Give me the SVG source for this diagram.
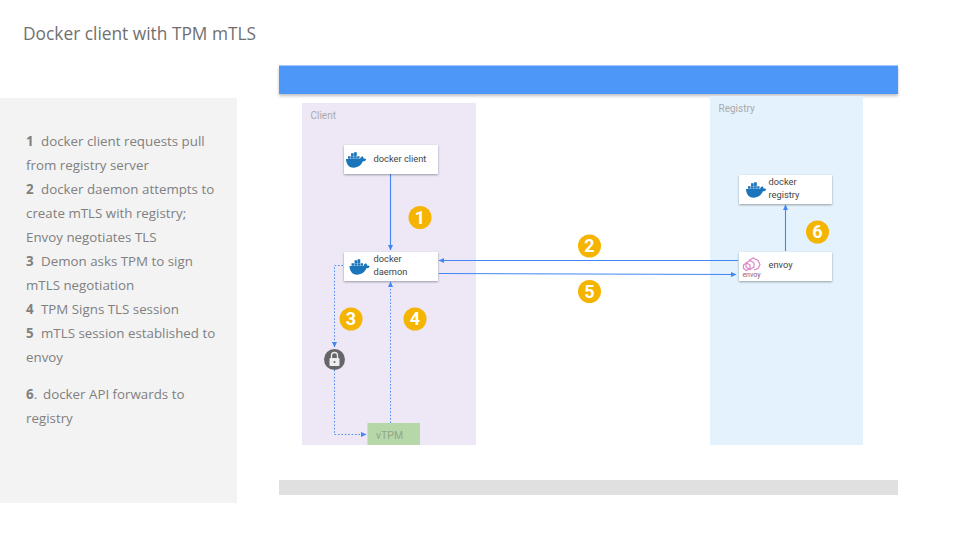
<svg xmlns="http://www.w3.org/2000/svg" width="960" height="540" viewBox="0 0 960 540">
<style>
text{font-family:"Open Sans","Noto Sans",sans-serif;fill:#777}
.r{font-family:Roboto,"Liberation Sans",sans-serif}
.nt{font-family:Roboto,"Liberation Sans",sans-serif;font-size:9.3px;fill:#444}
.side{font-size:13.33px;fill:#808080}
.side tspan.b{font-weight:700}
.card{fill:#fff;filter:url(#sh)}
.solid{fill:none;stroke:#4285f4;stroke-width:1.1}
.dash{fill:none;stroke:#4285f4;stroke-width:0.9;stroke-dasharray:1.6 1.8}
.badge{fill:#f4b400}
.bt{font-family:Roboto,"Liberation Sans",sans-serif;font-size:18px;font-weight:700;fill:#fff;text-anchor:middle}
.lbl{font-family:Roboto,"Liberation Sans",sans-serif;font-size:10px;fill:#aaa}
.wh{fill:#1a75bb}
</style>
<defs>
<filter id="sh" x="-10%" y="-30%" width="120%" height="170%"><feDropShadow dx="0" dy="1" stdDeviation="1" flood-color="#000" flood-opacity="0.35"/></filter>
<filter id="bs" x="-2%" y="-30%" width="104%" height="170%"><feDropShadow dx="0" dy="2" stdDeviation="1.500" flood-color="#000" flood-opacity="0.25"/></filter>
<marker id="a" markerWidth="7" markerHeight="6" refX="5" refY="3" orient="auto" markerUnits="userSpaceOnUse"><path d="M0 0.5L5.5 3L0 5.5Z" fill="#4285f4"/></marker>
<symbol id="whale" viewBox="0 0 22 16"><path class="wh" d="M0.500 7H15.200C15.500 5.600 16.400 4.500 17.600 4C18.600 4.800 19 5.800 19 6.600C20 6.400 21 6.700 21.800 7.400C21 8.900 19.500 9.500 18.200 9.400C16.800 13 13.500 16 8.500 16C3 16 0.700 12 0.500 7Z"/><path class="wh" d="M2.600 4.100h2.800v2.700H2.600zM5.800 4.100h2.800v2.700H5.800zM9 4.100h2.800v2.700H9zM12.200 4.100h2.500v2.700h-2.500zM5.800 1h2.800v2.700H5.800zM9 1h2.800v2.700H9zM9 0h2.800v1H9z"/></symbol>
</defs>

<rect width="960" height="540" fill="#fff"/>
<text x="23" y="39.500" style="font-size:17.33px;fill:#707070">Docker client with TPM mTLS</text>

<g id="sidebar">
<rect x="0" y="98" width="237" height="405" fill="#f3f3f3"/>
<text class="side" x="26" y="145.500"><tspan class="b">1</tspan><tspan x="41">docker client requests pull</tspan></text>
<text class="side" x="26" y="169.500">from registry server</text>
<text class="side" x="26" y="193.500"><tspan class="b">2</tspan><tspan x="41">docker daemon attempts to</tspan></text>
<text class="side" x="26" y="217.500">create mTLS with registry;</text>
<text class="side" x="26" y="241.500">Envoy negotiates TLS</text>
<text class="side" x="26" y="265.500"><tspan class="b">3</tspan><tspan x="41">Demon asks TPM to sign</tspan></text>
<text class="side" x="26" y="289.500">mTLS negotiation</text>
<text class="side" x="26" y="313.500"><tspan class="b">4</tspan><tspan x="41">TPM Signs TLS session</tspan></text>
<text class="side" x="26" y="337.500"><tspan class="b">5</tspan><tspan x="41">mTLS session established to</tspan></text>
<text class="side" x="26" y="361.500">envoy</text>
<text class="side" x="26" y="398.500"><tspan class="b">6</tspan>.<tspan x="43">docker API forwards to</tspan></text>
<text class="side" x="26" y="422.500">registry</text>
</g>

<rect x="279" y="65.500" width="619" height="28.500" fill="#4e97f8" filter="url(#bs)"/>
<rect x="279" y="480" width="619" height="15" fill="#e0e0e0"/>

<g id="client-zone">
<rect x="302" y="103" width="174" height="342" fill="#ede7f6"/>
<text class="lbl" x="310.500" y="119">Client</text>
</g>
<g id="registry-zone">
<rect x="710" y="96" width="153" height="349" fill="#e3f2fd"/>
<text class="lbl" x="718.500" y="112">Registry</text>
</g>

<g id="connectors">
<path class="solid" d="M390.500 174V250" marker-end="url(#a)"/>
<path class="solid" d="M738 260.500H439" marker-end="url(#a)"/>
<path class="solid" d="M439 273.500L736 274.500" marker-end="url(#a)"/>
<path class="solid" d="M785.500 251V205" marker-end="url(#a)"/>
<path class="dash" d="M343 265.500H334.500V347" marker-end="url(#a)"/>
<path class="dash" d="M334.500 370V434.500H366" marker-end="url(#a)"/>
<path class="dash" d="M390.500 423V282" marker-end="url(#a)"/>
</g>

<g id="docker-client">
<rect class="card" x="344" y="145" width="94" height="29"/>
<use href="#whale" x="345.500" y="152" width="21" height="16"/>
<text class="nt" x="373.500" y="162">docker client</text>
</g>
<g id="docker-daemon">
<rect class="card" x="344" y="252" width="94" height="29"/>
<use href="#whale" x="349" y="259" width="21" height="16"/>
<text class="nt" x="373.500" y="261.500">docker</text>
<text class="nt" x="373.500" y="274.500">daemon</text>
</g>
<g id="docker-registry">
<rect class="card" x="739" y="175" width="93" height="29"/>
<use href="#whale" x="745.500" y="182" width="21" height="16"/>
<text class="nt" x="768.500" y="185">docker</text>
<text class="nt" x="768.500" y="198">registry</text>
</g>
<g id="envoy">
<rect class="card" x="739" y="252" width="93" height="29"/>
<g fill="none" stroke="#dc86c6" stroke-width="1.200"><path d="M746 263l4-2.500 4 2.500v4l-4 2.500-4-2.500z"/><path d="M749 260.500l4-2.500 5 2.500 2 4-2 4-4 1.500"/><path d="M743.500 265l3-2 3.500 2v3.500l-3.500 2-3-2z"/></g>
<text x="751.500" y="276.500" text-anchor="middle" style="font-size:7px;fill:#8a5a88;font-family:Roboto,sans-serif">envoy</text>
<text class="nt" x="768.500" y="268">envoy</text>
</g>
<g id="lock">
<circle cx="334.500" cy="359.500" r="10.500" fill="#676568"/>
<rect x="329.500" y="358" width="10" height="8" rx="1" fill="#eee"/>
<path d="M331.500 358v-2.500a3 3 0 0 1 6 0V358" fill="none" stroke="#eee" stroke-width="1.300"/>
<circle cx="334.500" cy="362" r="1" fill="#676568"/>
</g>
<g id="vtpm">
<rect x="367.500" y="423" width="52.500" height="22" fill="#b6d7a8"/>
<text x="376" y="439" class="r" style="font-size:10.500px;fill:#8fa98a">vTPM</text>
</g>

<g id="badge-1"><circle class="badge" cx="420" cy="217.500" r="11.500"/><text class="bt" x="420" y="223.700">1</text></g>
<g id="badge-2"><circle class="badge" cx="589.500" cy="246" r="11.500"/><text class="bt" x="589.500" y="252.200">2</text></g>
<g id="badge-3"><circle class="badge" cx="351" cy="319" r="11.500"/><text class="bt" x="351" y="325.200">3</text></g>
<g id="badge-4"><circle class="badge" cx="415" cy="319" r="11.500"/><text class="bt" x="415" y="325.200">4</text></g>
<g id="badge-5"><circle class="badge" cx="589.500" cy="291.500" r="11.500"/><text class="bt" x="589.500" y="297.700">5</text></g>
<g id="badge-6"><circle class="badge" cx="817.500" cy="232" r="11.500"/><text class="bt" x="817.500" y="238.200">6</text></g>
</svg>
